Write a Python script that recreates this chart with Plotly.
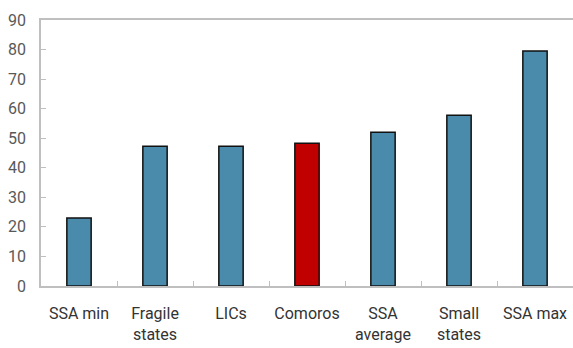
import plotly.graph_objects as go

categories = ["SSA min", "Fragile<br>states", "LICs", "Comoros", "SSA<br>average", "Small<br>states", "SSA max"]
values = [23.0, 47.3, 47.3, 48.3, 52.0, 57.8, 79.5]
colors = ["#4a8aab", "#4a8aab", "#4a8aab", "#c00000", "#4a8aab", "#4a8aab", "#4a8aab"]
y_ticks = [0, 10, 20, 30, 40, 50, 60, 70, 80, 90]

fig = go.Figure(go.Bar(
    x=categories, y=values,
    marker=dict(color=colors, line=dict(color="#111111", width=1.5)),
    width=0.32,
))

font_family = "Roboto"
fig.update_layout(
    width=573, height=348,
    margin=dict(l=41, r=0, t=20, b=62),
    paper_bgcolor="white", plot_bgcolor="white",
    showlegend=False,
    font=dict(family=font_family, size=16, color="#404040"),
)
fig.update_xaxes(
    range=[-0.5, 6.5],
    showline=True, linecolor="#bfbfbf", linewidth=1.5, mirror=True,
    ticks="inside", tickson="boundaries", ticklen=5, tickcolor="#bfbfbf",
    showgrid=False, tickfont=dict(size=16, color="#333333"),
    ticklabelstandoff=12,
)
fig.update_yaxes(
    range=[0, 90], tickvals=y_ticks,
    showline=True, linecolor="#bfbfbf", linewidth=1.5,
    ticks="inside", ticklen=5, tickcolor="#bfbfbf",
    showgrid=False, zeroline=False,
    tickfont=dict(size=16, color="#595959"),
    ticklabelstandoff=10,
)
fig.write_html("out.html")
